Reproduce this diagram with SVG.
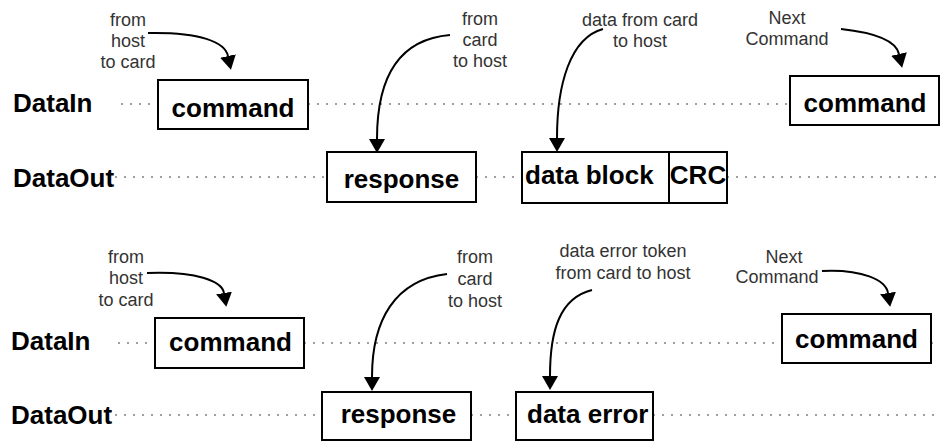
<svg xmlns="http://www.w3.org/2000/svg" width="940" height="441" viewBox="0 0 940 441">
  <style>
    .box { fill: #ffffff; stroke: #000000; stroke-width: 2; }
    .big { font-family: "Liberation Sans", Arial, sans-serif; font-weight: bold; font-size: 26px; fill: #000000; }
    .mid { text-anchor: middle; }
    .note { font-family: "Liberation Sans", Arial, sans-serif; font-size: 18px; fill: #333333; text-anchor: middle; }
    .dots { stroke: #808080; stroke-width: 1.5; stroke-dasharray: 2 7; fill: none; }
    .arrow { stroke: #000000; stroke-width: 2; fill: none; marker-end: url(#head); }
  </style>
  <defs>
    <marker id="head" viewBox="0 0 14 16" refX="0" refY="8" markerWidth="14" markerHeight="16" markerUnits="userSpaceOnUse" orient="auto">
      <path d="M0,0 L14,8 L0,16 z" fill="#000000"/>
    </marker>
  </defs>
  <rect width="940" height="441" fill="#ffffff"/>

  <g id="timelines">
    <line class="dots" x1="121" y1="104" x2="158" y2="104"/>
    <line class="dots" x1="308" y1="104" x2="790" y2="104"/>
    <line class="dots" x1="115" y1="177" x2="327" y2="177"/>
    <line class="dots" x1="476" y1="177" x2="522" y2="177"/>
    <line class="dots" x1="727" y1="177" x2="940" y2="177"/>
    <line class="dots" x1="118" y1="343" x2="155" y2="343"/>
    <line class="dots" x1="304" y1="343" x2="782" y2="343"/>
    <line class="dots" x1="931" y1="343" x2="940" y2="343"/>
    <line class="dots" x1="115" y1="415" x2="322" y2="415"/>
    <line class="dots" x1="471" y1="415" x2="516" y2="415"/>
    <line class="dots" x1="653" y1="415" x2="940" y2="415"/>
  </g>

  <g id="row-labels">
    <text class="big" x="13" y="112">DataIn</text>
    <text class="big" x="13" y="187">DataOut</text>
    <text class="big" x="11" y="350">DataIn</text>
    <text class="big" x="11" y="424">DataOut</text>
  </g>

  <g id="cmd1">
    <rect class="box" x="158" y="80" width="150" height="49"/>
    <text class="big mid" x="233" y="117">command</text>
  </g>
  <g id="resp1">
    <rect class="box" x="327" y="152" width="149" height="50"/>
    <text class="big mid" x="401.5" y="188">response</text>
  </g>
  <g id="datablock">
    <rect class="box" x="522" y="152" width="205" height="51"/>
    <line x1="669" y1="152" x2="669" y2="203" stroke="#000000" stroke-width="2"/>
    <text class="big" x="525" y="184">data block</text>
    <text class="big mid" x="698" y="184">CRC</text>
  </g>
  <g id="cmd2">
    <rect class="box" x="790" y="76" width="149" height="49"/>
    <text class="big mid" x="865" y="112">command</text>
  </g>

  <g id="cmd3">
    <rect class="box" x="155" y="318" width="149" height="50"/>
    <text class="big mid" x="230.5" y="351">command</text>
  </g>
  <g id="resp2">
    <rect class="box" x="322" y="392" width="149" height="48"/>
    <text class="big mid" x="398.5" y="423">response</text>
  </g>
  <g id="dataerror">
    <rect class="box" x="516" y="392" width="137" height="48"/>
    <text class="big" x="527" y="423">data error</text>
  </g>
  <g id="cmd4">
    <rect class="box" x="782" y="314" width="149" height="49"/>
    <text class="big mid" x="856.5" y="348">command</text>
  </g>

  <g id="note1">
    <text class="note" x="128" y="26">from</text>
    <text class="note" x="128" y="47">host</text>
    <text class="note" x="128" y="68">to card</text>
  </g>
  <g id="note2">
    <text class="note" x="480" y="25">from</text>
    <text class="note" x="480" y="46">card</text>
    <text class="note" x="480" y="67">to host</text>
  </g>
  <g id="note3">
    <text class="note" x="640" y="26">data from card</text>
    <text class="note" x="640" y="47">to host</text>
  </g>
  <g id="note4">
    <text class="note" x="787" y="24">Next</text>
    <text class="note" x="787" y="45">Command</text>
  </g>
  <g id="note5">
    <text class="note" x="126" y="263">from</text>
    <text class="note" x="126" y="284">host</text>
    <text class="note" x="126" y="306">to card</text>
  </g>
  <g id="note6">
    <text class="note" x="475" y="263">from</text>
    <text class="note" x="475" y="285">card</text>
    <text class="note" x="475" y="307">to host</text>
  </g>
  <g id="note7">
    <text class="note" x="623" y="257">data error token</text>
    <text class="note" x="623" y="279">from card to host</text>
  </g>
  <g id="note8">
    <text class="note" x="784" y="263">Next</text>
    <text class="note" x="777" y="283">Command</text>
  </g>

  <g id="connectors">
    <path class="arrow" d="M148,33 C200,32 225,42 228,56"/>
    <path class="arrow" d="M450,35 C390,40 377,90 377,139"/>
    <path class="arrow" d="M603,29 C570,38 557,85 557,138"/>
    <path class="arrow" d="M841,29 C878,33 896,41 899,54"/>
    <path class="arrow" d="M147,273 C196,271 222,281 224,293"/>
    <path class="arrow" d="M447,274 C395,280 372,320 372,377"/>
    <path class="arrow" d="M592,290 C560,298 550,330 550,376"/>
    <path class="arrow" d="M822,271 C862,269 886,280 888,293"/>
  </g>
</svg>
